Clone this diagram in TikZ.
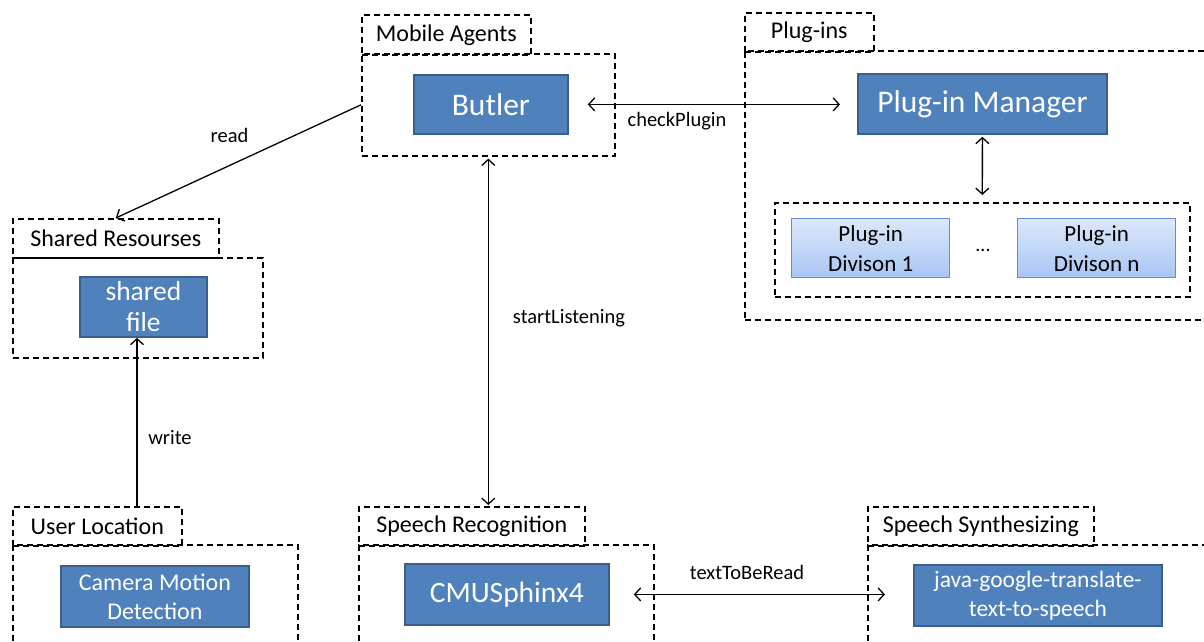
\documentclass[tikz,border=0pt]{standalone}
\usepackage{fontspec}
\setmainfont{Carlito}
\usetikzlibrary{arrows.meta,calc}
\begin{document}
\begin{tikzpicture}[x=1pt,y=-1pt,
  grp/.style={draw=black, dash pattern=on 6pt off 4pt, line width=1.6pt, rectangle, inner sep=0pt, anchor=north west},
  grplabel/.style={grp, font=\fontsize{24}{28}\selectfont, text=black},
  bluebox/.style={draw=officeborder, fill=officeblue, line width=1.8pt, rectangle, inner sep=0pt, text=white, align=center, anchor=north west},
  lightbox/.style={draw=lightborder, line width=1.4pt, top color=lighttop, bottom color=lightbottom, rectangle, inner sep=0pt, text=black, align=center, anchor=north west, font=\fontsize{23}{30}\selectfont},
  arr/.style={line width=1.3pt, -{Straight Barb[length=6pt,width=13pt]}},
  darr/.style={line width=1.3pt, {Straight Barb[length=6pt,width=13pt]}-{Straight Barb[length=6pt,width=13pt]}},
  clabel/.style={font=\fontsize{20.5}{24}\selectfont, text=black}
]
\definecolor{officeblue}{HTML}{4F81BD}
\definecolor{officeborder}{HTML}{3A5F8B}
\definecolor{lighttop}{HTML}{DCE7FB}
\definecolor{lightbottom}{HTML}{A8C6F4}
\definecolor{lightborder}{HTML}{5F8DD3}
\useasboundingbox (0,0) rectangle (1204,641);
\fill[white] (0,0) rectangle (1204,641);

% Mobile Agents
\node[grp, minimum width=253pt, minimum height=102pt] (ma) at (361,53) {};
\node[grplabel, minimum width=169pt, minimum height=40pt] (mal) at (361,14) {Mobile Agents};
\node[bluebox, minimum width=154pt, minimum height=59pt, font=\fontsize{31.5}{36}\selectfont] (butler) at (413,74) {Butler};

% Plug-ins
\node[grp, minimum width=470pt, minimum height=269pt] (pi) at (744,50) {};
\node[grplabel, minimum width=129pt, minimum height=39pt] (pil) at (744,12) {Plug-ins};
\node[bluebox, minimum width=249pt, minimum height=60pt, font=\fontsize{31.5}{36}\selectfont] (pm) at (857,73) {Plug-in Manager};
\node[grp, minimum width=415pt, minimum height=94pt] (pdiv) at (774,202) {};
\node[lightbox, minimum width=158pt, minimum height=59pt] (pd1) at (791,218) {Plug-in\\Divison 1};
\node[lightbox, minimum width=158pt, minimum height=59pt] (pdn) at (1017,218) {Plug-in\\Divison n};
\node[font=\fontsize{20}{24}\selectfont] (dots) at (983,250) {...};

% Shared Resourses
\node[grp, minimum width=250pt, minimum height=100pt] (sr) at (12,257) {};
\node[grplabel, minimum width=206pt, minimum height=39pt] (srl) at (12,218) {Shared Resourses};
\node[bluebox, minimum width=127pt, minimum height=60pt, font=\fontsize{27.5}{31}\selectfont] (sf) at (79,276) {shared\\file};

% User Location
\node[grp, minimum width=285pt, minimum height=110pt] (ul) at (12,544) {};
\node[grplabel, minimum width=169pt, minimum height=39pt] (ull) at (12,506) {User Location};
\node[bluebox, minimum width=188pt, minimum height=61pt, font=\fontsize{24}{29}\selectfont] (cam) at (60,565) {Camera Motion\\Detection};

% Speech Recognition
\node[grp, minimum width=295pt, minimum height=110pt] (sp) at (358,544) {};
\node[grplabel, minimum width=226pt, minimum height=39pt] (spl) at (358,506) {Speech Recognition};
\node[bluebox, minimum width=204pt, minimum height=61pt, font=\fontsize{29.5}{34}\selectfont] (cmu) at (404,563) {CMUSphinx4};

% Speech Synthesizing
\node[grp, minimum width=345pt, minimum height=110pt] (ss) at (867,544) {};
\node[grplabel, minimum width=226pt, minimum height=39pt] (ssl) at (867,506) {Speech Synthesizing};
\node[bluebox, minimum width=248pt, minimum height=61pt, font=\fontsize{23.5}{29}\selectfont] (java) at (913,564) {java-google-translate-\\text-to-speech};

% connectors
\draw[arr] (ma.west) -- (srl.north);
\node[clabel] (lread) at (229.5,135) {read};

\coordinate (wx) at (137,0);
\draw[arr] (ull.north -| wx) -- (sf.south -| wx);
\node[clabel] (lwrite) at (170,438) {write};

\draw[darr, shorten <=2pt, shorten >=1pt] (ma.south) -- (spl.north -| ma.south);
\node[clabel] (lstart) at (569,318) {startListening};

\draw[darr, shorten <=19pt, shorten >=17pt] (butler.east) -- (pm.west |- butler.east);
\node[clabel] (lcheck) at (677,121) {checkPlugin};

\draw[darr, shorten <=24pt, shorten >=28pt] (cmu.east) -- (java.west |- cmu.east);
\node[clabel] (ltext) at (747,572) {textToBeRead};

\draw[darr, shorten <=2pt, shorten >=7pt] (pm.south) -- (pdiv.north);
\end{tikzpicture}
\end{document}
